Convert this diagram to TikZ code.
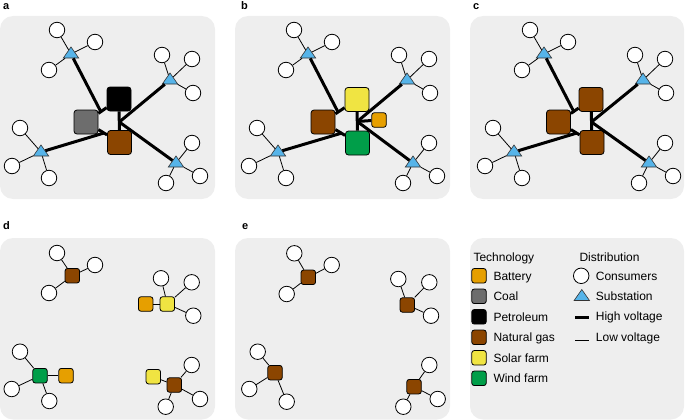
\documentclass[tikz,border=0pt]{standalone}
\usepackage{fontspec}
\setmainfont{Liberation Sans}
\usetikzlibrary{shapes.geometric}

\definecolor{panelbg}{RGB}{238,238,238}
\definecolor{battery}{RGB}{230,159,0}
\definecolor{coal}{RGB}{109,109,109}
\definecolor{petroleum}{RGB}{0,0,0}
\definecolor{natgas}{RGB}{139,69,0}
\definecolor{solar}{RGB}{240,228,66}
\definecolor{wind}{RGB}{0,158,73}
\definecolor{subblue}{RGB}{86,180,233}

\tikzset{
  panel/.style={fill=panelbg, rounded corners=13pt},
  consumer/.style={circle, draw=black, fill=white, line width=0.8pt, minimum size=15.5pt, inner sep=0pt},
  substation/.style={isosceles triangle, isosceles triangle apex angle=70, shape border rotate=90,
    draw=black!80, fill=subblue, line width=0.6pt, minimum size=11pt, inner sep=0pt},
  plant/.style={draw=black, fill=#1, rounded corners=3pt, line width=0.8pt, minimum size=24pt, inner sep=0pt},
  smallplant/.style={plant=#1, minimum size=14.5pt, rounded corners=2.5pt},
  highv/.style={line width=3pt},
  lowv/.style={line width=0.8pt},
  tag/.style={font=\bfseries\fontsize{11}{13}\selectfont, anchor=base west, inner sep=0pt},
  legtext/.style={font=\fontsize{12}{14}\selectfont, anchor=base west, inner sep=0pt},
}

% one hub with its three consumers
\def\cluster[#1](#2)(#3)(#4)(#5)(#6){%
  \node[#1] (#2) at (#3) {};
  \node[consumer] (#2-1) at (#4) {};
  \node[consumer] (#2-2) at (#5) {};
  \node[consumer] (#2-3) at (#6) {};
  \draw[lowv] (#2) -- (#2-1) (#2) -- (#2-2) (#2) -- (#2-3);
}

\begin{document}
\begin{tikzpicture}[x=1pt, y=-1pt]
			%%%%% START %%%%%
			\useasboundingbox (0,0) rectangle (685,420);
			
			\fill[panel] (0,16) rectangle (215,199);
			\fill[panel] (235,16) rectangle (450,199);
			\fill[panel] (470,16) rectangle (684,199);
			\fill[panel] (0,238) rectangle (215,419.5);
			\fill[panel] (235,238) rectangle (450,419.5);
			\fill[panel] (470,238) rectangle (684,419.5);
			
			\node[tag] (lab-a) at (3,9.3) {a};
			\node[tag] (lab-b) at (241,9.3) {b};
			\node[tag] (lab-c) at (473,9.3) {c};
			\node[tag] (lab-d) at (3,229) {d};
			\node[tag] (lab-e) at (242,229) {e};
			
			%%%%% a: fossil grid %%%%%
			\cluster[substation](a-s1)(71,54)(57,30)(95,42)(49,70)
			\cluster[substation](a-s2)(170,80)(162,55)(192,59)(193,93)
			\cluster[substation](a-s3)(41,152)(20,128)(12,166)(49,178)
			\cluster[substation](a-s4)(176,163)(192,143)(200,176)(166,183)
			
			\node[plant=petroleum] (a-pet) at (119,99) {};
			\node[plant=coal] (a-coal) at (86,122) {};
			\node[plant=natgas] (a-gas) at (119.5,142.5) {};
			\coordinate (a-hub) at (119.3,122);
			\coordinate (a-j1) at (101,112);
			\coordinate (a-j2) at (104,133);
			
			\draw[highv] (a-coal) -- (a-pet);
			\draw[highv] (a-coal) -- (a-gas);
			\draw[highv] (a-pet) -- (a-gas);
			\draw[highv] (a-s1) -- (a-j1);
			\draw[highv] (a-s3) -- (a-j2);
			\draw[highv] (a-s2) -- (a-hub);
			\draw[highv] (a-s4) -- (a-hub);
			
			%%%%% b: renewable grid %%%%%
			\begin{scope}[xshift=237]
			\cluster[substation](b-s1)(71,54)(57,30)(95,42)(49,70)
			\cluster[substation](b-s2)(170,80)(162,55)(192,59)(193,93)
			\cluster[substation](b-s3)(41,152)(20,128)(12,166)(49,178)
			\cluster[substation](b-s4)(176,163)(192,143)(200,176)(166,183)
			
			\node[plant=solar] (b-sol) at (120,99.5) {};
			\node[plant=natgas] (b-gas) at (86,122) {};
			\node[plant=wind] (b-wind) at (120.5,143) {};
			\node[smallplant=battery] (b-bat) at (142,120) {};
			\coordinate (b-hub) at (120.3,121.5);
			\coordinate (b-j1) at (101,112);
			\coordinate (b-j2) at (105,133);
			
			\draw[highv] (b-gas) -- (b-sol);
			\draw[highv] (b-gas) -- (b-wind);
			\draw[highv] (b-sol) -- (b-wind);
			\draw[highv] (b-bat) -- (b-hub);
			\draw[highv] (b-s1) -- (b-j1);
			\draw[highv] (b-s3) -- (b-j2);
			\draw[highv] (b-s2) -- (b-hub);
			\draw[highv] (b-s4) -- (b-hub);
			\end{scope}
			
			%%%%% c: gas grid %%%%%
			\begin{scope}[xshift=473]
			\cluster[substation](c-s1)(71,54)(57,30)(95,42)(49,70)
			\cluster[substation](c-s2)(170,80)(162,55)(192,59)(193,93)
			\cluster[substation](c-s3)(41,152)(20,128)(12,166)(49,178)
			\cluster[substation](c-s4)(176,163)(192,143)(200,176)(166,183)
			
			\node[plant=natgas] (c-top) at (118,99.5) {};
			\node[plant=natgas] (c-left) at (85.5,122) {};
			\node[plant=natgas] (c-bot) at (119,142.5) {};
			\coordinate (c-hub) at (118.5,122);
			\coordinate (c-j1) at (101,112);
			\coordinate (c-j2) at (104,133);
			
			\draw[highv] (c-left) -- (c-top);
			\draw[highv] (c-left) -- (c-bot);
			\draw[highv] (c-top) -- (c-bot);
			\draw[highv] (c-s1) -- (c-j1);
			\draw[highv] (c-s3) -- (c-j2);
			\draw[highv] (c-s2) -- (c-hub);
			\draw[highv] (c-s4) -- (c-hub);
			\end{scope}
			
			%%%%% d: mixed microgrids %%%%%
			\cluster[smallplant=natgas](d-g1)(72.3,275.7)(57,253)(95,265)(49,293)
			\cluster[smallplant=solar](d-s1)(167.3,304)(161,278.3)(191.7,282.3)(193.3,315.7)
			\cluster[smallplant=wind](d-w1)(40,375.7)(20,351.7)(11.7,389)(49.3,401)
			\cluster[smallplant=natgas](d-g2)(174.3,385)(191.7,365)(200,399)(165.7,406.7)
			
			\node[smallplant=battery] (d-b1) at (145.7,304) {};
			\node[smallplant=battery] (d-b2) at (66,375.7) {};
			\node[smallplant=solar] (d-s2) at (153.3,376.7) {};
			
			\draw[lowv] (d-b1) -- (d-s1);
			\draw[lowv] (d-w1) -- (d-b2);
			\draw[lowv] (d-s2) -- (d-g2);
			
			%%%%% e: gas microgrids %%%%%
			\cluster[smallplant=natgas](e-g1)(308.3,277.3)(294.3,253.3)(331.7,265)(286.7,294)
			\cluster[smallplant=natgas](e-g2)(407.3,305)(398.3,279)(429.3,282.3)(431,315.7)
			\cluster[smallplant=natgas](e-g3)(275,372.7)(257.7,351.7)(249.3,389)(286.7,401.7)
			\cluster[smallplant=natgas](e-g4)(414,386.7)(429.3,365)(437.7,399)(403.3,406.7)
			
			%%%%% legend %%%%%
			\node[legtext] (leg-tech) at (473.3,261.5) {Technology};
			\node[smallplant=battery] (leg-bat) at (479,275.8) {};
			\node[legtext] (leg-bat-t) at (493.3,280.1) {Battery};
			\node[smallplant=coal] (leg-coal) at (479,296.3) {};
			\node[legtext] (leg-coal-t) at (493.3,300.6) {Coal};
			\node[smallplant=petroleum] (leg-pet) at (479,316.8) {};
			\node[legtext] (leg-pet-t) at (493.3,321.1) {Petroleum};
			\node[smallplant=natgas] (leg-gas) at (479,337.3) {};
			\node[legtext] (leg-gas-t) at (493.3,341.6) {Natural gas};
			\node[smallplant=solar] (leg-sol) at (479,357.8) {};
			\node[legtext] (leg-sol-t) at (493.3,362.1) {Solar farm};
			\node[smallplant=wind] (leg-wind) at (479,378.3) {};
			\node[legtext] (leg-wind-t) at (493.3,382.6) {Wind farm};
			
			\node[legtext] (leg-dist) at (579.3,261) {Distribution};
			\node[consumer] (leg-con) at (581.2,275.8) {};
			\node[legtext] (leg-con-t) at (595.7,280.1) {Consumers};
			\node[substation] (leg-sub) at (581.8,296.5) {};
			\node[legtext] (leg-sub-t) at (595.7,300.8) {Substation};
			\coordinate (leg-hv-l) at (575,317.5);
			\coordinate (leg-hv-r) at (588.5,317.5);
			\draw[highv] (leg-hv-l) -- (leg-hv-r);
			\node[legtext] (leg-hv-t) at (595.7,320.5) {High voltage};
			\coordinate (leg-lv-l) at (575,340);
			\coordinate (leg-lv-r) at (588.5,340);
			\draw[lowv] (leg-lv-l) -- (leg-lv-r);
			\node[legtext] (leg-lv-t) at (595.7,341) {Low voltage};
			
			%%%%% END %%%%%
		\end{tikzpicture}
\end{document}
